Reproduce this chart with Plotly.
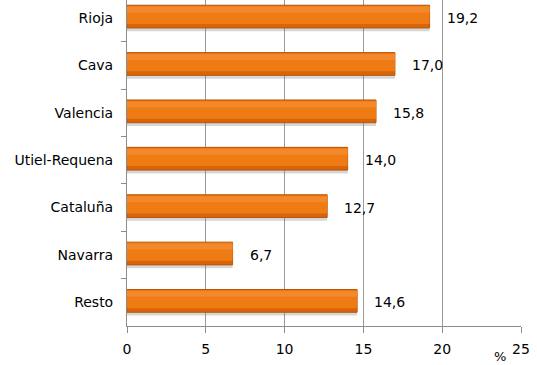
import plotly.graph_objects as go

categories = ["Rioja", "Cava", "Valencia", "Utiel-Requena", "Cataluña", "Navarra", "Resto"]
values = [19.2, 17.0, 15.8, 14.0, 12.7, 6.7, 14.6]
x_ticks = [0, 5, 10, 15, 20, 25]

labels = [f"{v:.1f}".replace(".", ",") for v in values]

fig = go.Figure()
# shadow
fig.add_trace(go.Bar(y=categories, x=values, orientation="h", width=0.5, offset=-0.22,
                     marker=dict(color="rgba(120,120,120,0.3)", line=dict(width=0)),
                     hoverinfo="skip", showlegend=False))
# main bar
fig.add_trace(go.Bar(y=categories, x=values, orientation="h", width=0.48, offset=-0.27,
                     marker=dict(color="#D9650A", line=dict(color="#B9560A", width=1)),
                     showlegend=False))
# body
fig.add_trace(go.Bar(y=categories, x=values, orientation="h", width=0.38, offset=-0.255,
                     marker=dict(color="#EF7B14", line=dict(width=0)),
                     hoverinfo="skip", showlegend=False))
# highlight band
fig.add_trace(go.Bar(y=categories, x=values, orientation="h", width=0.12, offset=-0.235,
                     marker=dict(color="#F3892A", line=dict(width=0)),
                     hoverinfo="skip", showlegend=False))

for c, v, t in zip(categories, values, labels):
    fig.add_annotation(x=v, y=c, text=t, xanchor="left", xshift=15, showarrow=False,
                       font=dict(family="DejaVu Sans", size=14, color="#000"))

fig.add_annotation(x=0.947, y=-0.095, xref="paper", yref="paper", text="%", showarrow=False,
                   xanchor="center", yanchor="middle",
                   font=dict(family="DejaVu Sans", size=13, color="#000"))

fig.update_layout(
    width=537, height=365,
    margin=dict(l=127, r=16, t=0, b=39, autoexpand=False),
    plot_bgcolor="white", paper_bgcolor="white",
    barmode="overlay",
    font=dict(family="DejaVu Sans", size=14, color="#000"),
    xaxis=dict(range=[0, 25], tickvals=x_ticks, ticktext=[str(t) for t in x_ticks],
               showgrid=True, gridcolor="#9A9A9A", gridwidth=1,
               showline=True, linecolor="#8C8C8C", linewidth=1,
               ticks="outside", ticklen=6, tickcolor="#8C8C8C",
               ticklabelstandoff=4, zeroline=False, automargin=False),
    yaxis=dict(categoryorder="array", categoryarray=categories, range=[6.5, -0.38],
               showline=True, linecolor="#8C8C8C", linewidth=1,
               ticks="outside", ticklen=5, tickcolor="#8C8C8C", tickson="boundaries",
               ticklabelstandoff=10, showgrid=False, automargin=False),
)

fig.write_html("out.html", config={"displayModeBar": False},
               post_script="document.body.style.margin='0';document.body.style.overflow='hidden';")
